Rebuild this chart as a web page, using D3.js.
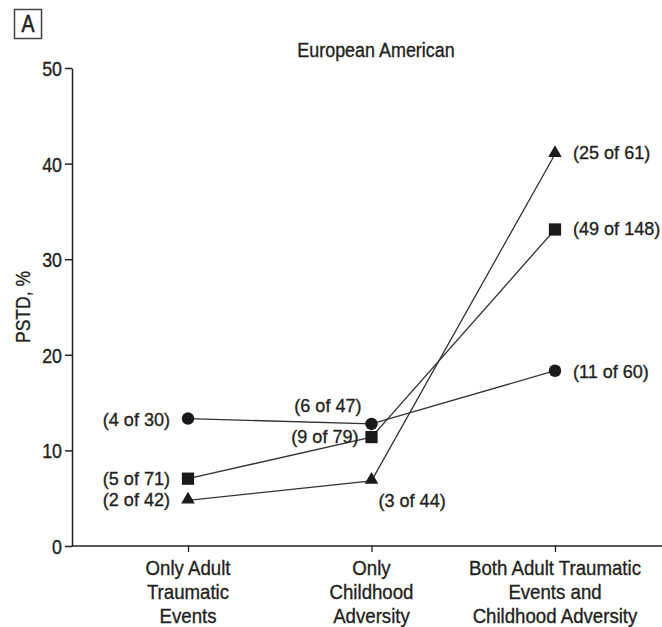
<!DOCTYPE html>
<html>
<head>
<meta charset="utf-8">
<script src="https://cdn.jsdelivr.net/npm/d3@7"></script>
<style>
  html, body { margin: 0; padding: 0; background: #fff; }
  svg { display: block; }
  text { font-family: "Liberation Sans", Arial, sans-serif; fill: #231f20;
         stroke: #231f20; stroke-width: 0.35px; }
</style>
</head>
<body>
<svg id="chart" width="662" height="627"></svg>
<script>
// Exposure groups along the x axis
const categories = [
  "Only Adult Traumatic Events",
  "Only Childhood Adversity",
  "Both Adult Traumatic Events and Childhood Adversity"
];
const categoryLines = [
  ["Only Adult", "Traumatic", "Events"],
  ["Only", "Childhood", "Adversity"],
  ["Both Adult Traumatic", "Events and", "Childhood Adversity"]
];

// Cases / group size for each series
const circleCases = [4, 6, 11];
const circleTotals = [30, 47, 60];
const squareCases = [5, 9, 49];
const squareTotals = [71, 79, 148];
const triangleCases = [2, 3, 25];
const triangleTotals = [42, 44, 61];

const yTicks = [0, 10, 20, 30, 40, 50];

// label placement: [anchor, dx from marker, baseline dy from marker]
const series = [
  { shape: "circle", cases: circleCases, totals: circleTotals,
    labelPos: [["end", -18, 7], ["end", -10, -12], ["start", 18, 7]] },
  { shape: "square", cases: squareCases, totals: squareTotals,
    labelPos: [["end", -18, 6], ["end", -13, 6], ["start", 18, 6]] },
  { shape: "triangle", cases: triangleCases, totals: triangleTotals,
    labelPos: [["end", -18, 6], ["start", 7, 26], ["start", 18, 5]] }
];
series.forEach(s => {
  s.values = s.cases.map((c, i) => c / s.totals[i] * 100);
});

const svg = d3.select("#chart");
const W = 662, H = 627;
const margin = { left: 72, right: 0, top: 68, bottom: 81 };

const x = d3.scalePoint().domain(categories).range([188, 555]);
const y = d3.scaleLinear().domain([0, 50]).range([H - margin.bottom, margin.top]);

const ink = "#231f20";

// Condensed text: horizontally squeezed sans
function addText(parent, px, py, str, size, sx, anchor) {
  return parent.append("text")
    .attr("transform", `translate(${px},${py}) scale(${sx},1)`)
    .attr("text-anchor", anchor || "start")
    .attr("font-size", size)
    .text(str);
}

// Panel letter
svg.append("rect").attr("x", 14.5).attr("y", 9.5).attr("width", 27).attr("height", 29)
  .attr("fill", "none").attr("stroke", "#444").attr("stroke-width", 1.5);
addText(svg, 28, 32, "A", 23, 0.85, "middle").style("stroke-width", "0.6px");

// Title
addText(svg, 376, 57, "European American", 19.5, 0.92, "middle");

// Y axis
const yAxis = svg.append("g").attr("transform", `translate(${margin.left},0)`)
  .call(d3.axisLeft(y).tickValues(yTicks).tickSize(7).tickPadding(3).tickSizeOuter(0));
yAxis.select(".domain").attr("stroke", ink).attr("stroke-width", 1.5);
yAxis.selectAll(".tick line").attr("stroke", ink).attr("stroke-width", 1.5);
yAxis.selectAll(".tick text")
  .attr("font-size", 21).attr("fill", ink).attr("font-family", null)
  .attr("x", -10 / 0.85).attr("dy", "0.36em")
  .attr("transform", "scale(0.85,1)");

// X axis
const xAxis = svg.append("g").attr("transform", `translate(0,${y(0)})`)
  .call(d3.axisBottom(x).tickSize(6).tickSizeOuter(0).tickFormat(""));
xAxis.select(".domain").attr("d", `M${margin.left},0H${W}`)
  .attr("stroke", ink).attr("stroke-width", 1.5);
xAxis.selectAll(".tick line").attr("stroke", ink).attr("stroke-width", 1.3);

categories.forEach((c, i) => {
  categoryLines[i].forEach((ln, j) => {
    addText(svg, x(c), 575 + j * 24, ln, 20.5, 0.91, "middle");
  });
});

// Y axis title
svg.append("text")
  .attr("transform", `translate(30,${(y(0) + y(50)) / 2}) rotate(-90)`)
  .attr("text-anchor", "middle").attr("font-size", 20.5)
  .attr("textLength", 72).attr("lengthAdjust", "spacingAndGlyphs")
  .text("PSTD, %");

// Lines
const line = d3.line().x((d, i) => x(categories[i])).y(d => y(d));
series.forEach(s => {
  svg.append("path").attr("d", line(s.values)).attr("fill", "none")
    .attr("stroke", "#333").attr("stroke-width", 1.3);
});

// Markers
const symbolType = { circle: d3.symbolCircle, square: d3.symbolSquare, triangle: d3.symbolTriangle };
const symbolSize = { circle: 122, square: 150, triangle: 80 };
series.forEach(s => {
  svg.append("g").selectAll("path").data(s.values).join("path")
    .attr("transform", (d, i) => `translate(${x(categories[i])},${y(d) + (s.shape === "triangle" ? -1 : 0)})`)
    .attr("d", d3.symbol().type(symbolType[s.shape]).size(symbolSize[s.shape]))
    .attr("fill", "#1a1a1a");
});

// Count labels
series.forEach(s => {
  s.values.forEach((v, i) => {
    const [anchor, dx, dy] = s.labelPos[i];
    addText(svg, x(categories[i]) + dx, y(v) + dy, `(${s.cases[i]} of ${s.totals[i]})`,
      19, 0.95, anchor);
  });
});
</script>
</body>
</html>
